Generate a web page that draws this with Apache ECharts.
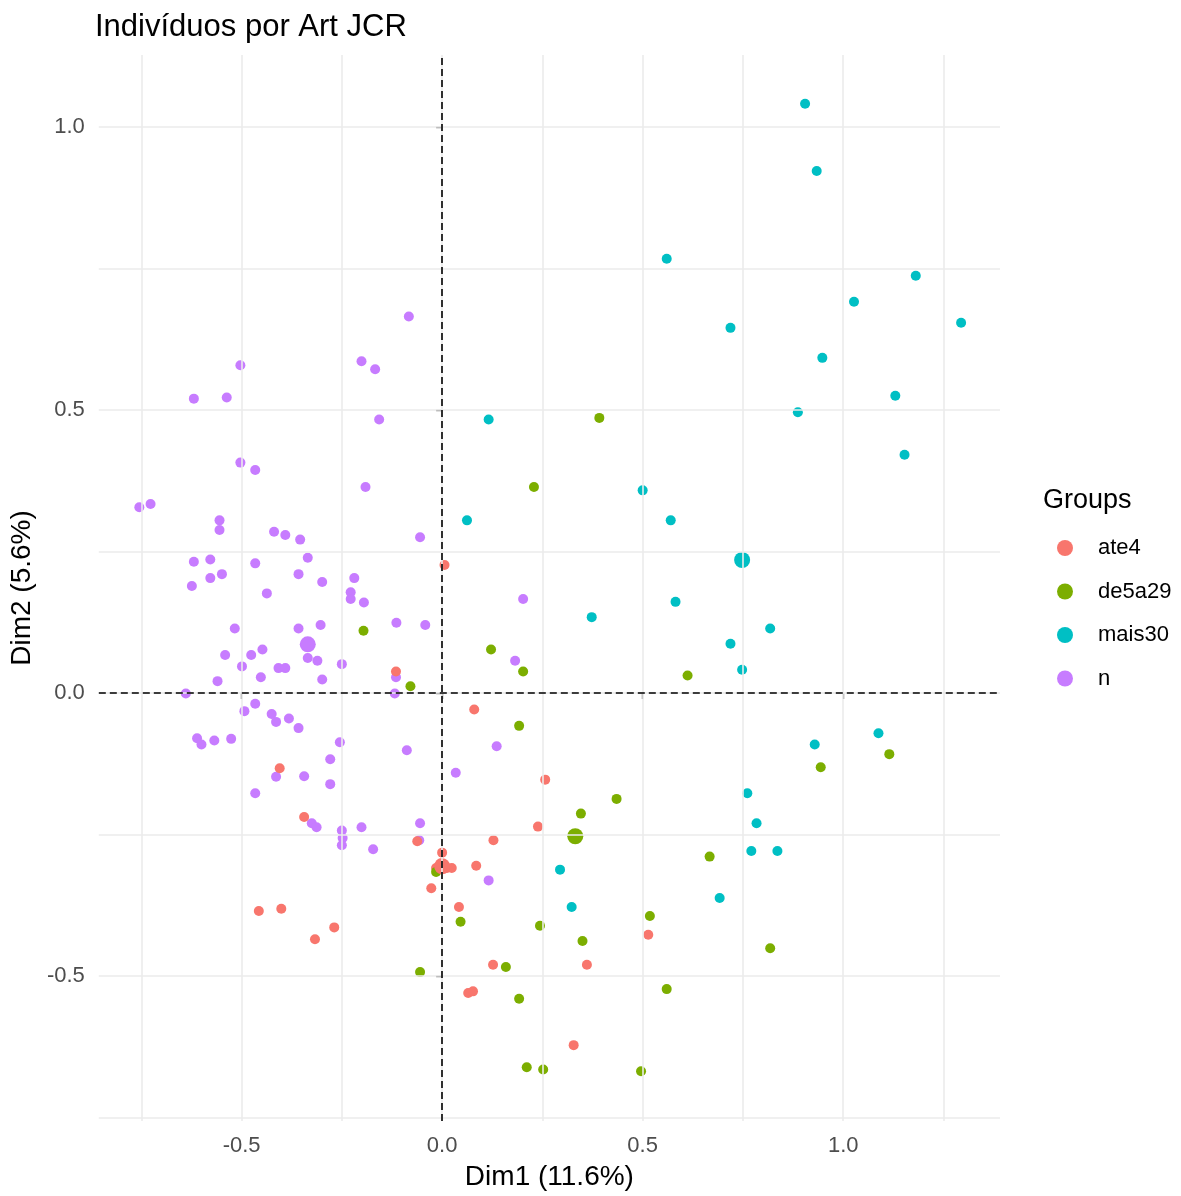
<!DOCTYPE html>
<html>
<head>
<meta charset="utf-8">
<script src="https://cdn.jsdelivr.net/npm/echarts@6/dist/echarts.min.js"></script>
<style>
html,body{margin:0;padding:0;background:#fff;}
#chart{width:1181px;height:1196px;}
</style>
</head>
<body>
<div id="chart"></div>
<script>
// ---- data ----
const groupNames = ['ate4', 'de5a29', 'mais30', 'n'];
const groupColors = ['#F8766D', '#7CAE00', '#00BFC4', '#C77CFF'];

const ptsAte4 = [
  [0.006, 0.226], [-0.115, 0.038], [0.080, -0.029], [-0.405, -0.133], [0.257, -0.153],
  [-0.344, -0.219], [0.239, -0.236], [-0.062, -0.262], [0.128, -0.260], [0.000, -0.282],
  [-0.015, -0.309], [-0.004, -0.301], [0.012, -0.309], [0.024, -0.309], [0.085, -0.305],
  [-0.027, -0.345], [0.042, -0.378], [0.514, -0.427], [0.127, -0.480], [0.361, -0.480],
  [0.065, -0.530], [0.077, -0.527], [0.328, -0.622], [-0.457, -0.385], [-0.401, -0.381],
  [-0.269, -0.414], [-0.317, -0.435]
];
const ptsDe5a29 = [
  [-0.196, 0.110], [0.392, 0.486], [0.229, 0.364], [0.122, 0.077], [0.202, 0.038],
  [-0.079, 0.012], [0.192, -0.058], [0.435, -0.187], [0.346, -0.213], [-0.015, -0.316],
  [0.046, -0.404], [0.244, -0.411], [0.518, -0.394], [0.350, -0.438], [-0.055, -0.493],
  [0.159, -0.484], [0.192, -0.540], [0.560, -0.523], [0.211, -0.661], [0.252, -0.665],
  [0.496, -0.668], [0.612, 0.031], [1.115, -0.108], [0.944, -0.131], [0.667, -0.289],
  [0.818, -0.451]
];
const ptsMais30 = [
  [0.116, 0.483], [0.500, 0.358], [0.062, 0.305], [0.570, 0.305], [0.582, 0.161],
  [0.373, 0.134], [0.294, -0.312], [0.323, -0.378], [0.905, 1.041], [0.934, 0.922],
  [0.560, 0.767], [1.181, 0.737], [1.027, 0.691], [1.294, 0.654], [0.719, 0.645],
  [0.948, 0.592], [1.130, 0.525], [0.887, 0.496], [1.153, 0.421], [0.818, 0.114],
  [0.719, 0.087], [0.748, 0.041], [1.088, -0.071], [0.929, -0.091], [0.761, -0.177],
  [0.784, -0.230], [0.771, -0.279], [0.836, -0.279], [0.692, -0.362]
];
const ptsN = [
  [-0.083, 0.665], [-0.503, 0.579], [-0.201, 0.586], [-0.167, 0.572], [-0.619, 0.520],
  [-0.537, 0.522], [-0.157, 0.483], [-0.503, 0.407], [-0.466, 0.394], [-0.191, 0.364],
  [-0.755, 0.328], [-0.727, 0.334], [-0.555, 0.305], [-0.555, 0.288], [-0.419, 0.285],
  [-0.391, 0.279], [-0.354, 0.271], [-0.055, 0.275], [-0.619, 0.232], [-0.578, 0.236],
  [-0.466, 0.229], [-0.335, 0.239], [-0.358, 0.210], [-0.299, 0.196], [-0.219, 0.203],
  [-0.624, 0.189], [-0.578, 0.203], [-0.549, 0.210], [-0.437, 0.176], [-0.228, 0.178],
  [-0.228, 0.166], [-0.195, 0.160], [0.202, 0.166], [-0.517, 0.114], [-0.358, 0.114],
  [-0.303, 0.120], [-0.114, 0.124], [-0.042, 0.120], [-0.541, 0.067], [-0.476, 0.067],
  [-0.448, 0.077], [-0.499, 0.047], [-0.408, 0.044], [-0.391, 0.044], [-0.335, 0.062],
  [-0.311, 0.057], [-0.250, 0.051], [0.182, 0.057], [-0.452, 0.028], [-0.560, 0.021],
  [-0.299, 0.024], [-0.115, 0.028], [-0.639, -0.001], [-0.118, -0.001], [-0.466, -0.019],
  [-0.493, -0.032], [-0.425, -0.037], [-0.414, -0.051], [-0.382, -0.045], [-0.358, -0.062],
  [-0.611, -0.080], [-0.600, -0.091], [-0.568, -0.084], [-0.526, -0.081], [-0.255, -0.087],
  [-0.088, -0.101], [0.136, -0.094], [-0.279, -0.117], [-0.414, -0.148], [-0.344, -0.147],
  [-0.279, -0.161], [0.034, -0.141], [-0.466, -0.177], [-0.325, -0.230], [-0.313, -0.237],
  [-0.250, -0.243], [-0.248, -0.256], [-0.250, -0.269], [-0.201, -0.237], [-0.055, -0.230],
  [-0.172, -0.276], [0.116, -0.331], [-0.057, -0.260]
];
// group mean points (larger markers)
const centroids = {
  ate4: [0.000, -0.306],
  de5a29: [0.332, -0.253],
  mais30: [0.748, 0.235],
  n: [-0.335, 0.086]
};

const xTickLabels = [-0.5, 0.0, 0.5, 1.0];
const yTickLabels = [-0.5, 0.0, 0.5, 1.0];
const xGridValues = [-0.75, -0.5, -0.25, 0, 0.25, 0.5, 0.75, 1.0, 1.25];
const yGridValues = [-0.75, -0.5, -0.25, 0, 0.25, 0.5, 0.75, 1.0];

const titleText = 'Indivíduos por Art JCR';
const xName = 'Dim1 (11.6%)';
const yName = 'Dim2 (5.6%)';
const legendTitle = 'Groups';

// ---- chart ----
const FONT = 'Liberation Sans, Arial, sans-serif';
const chart = echarts.init(document.getElementById('chart'), null, {renderer: 'canvas'});

const pointSets = {ate4: ptsAte4, de5a29: ptsDe5a29, mais30: ptsMais30, n: ptsN};
const drawOrder = ['n', 'ate4', 'de5a29', 'mais30'];

const series = [];
// grid lines
series.push({
  type: 'scatter', name: '_grid', data: [], silent: true, z: 1,
  markLine: {
    silent: true, symbol: ['none', 'none'], animation: false,
    label: {show: false},
    lineStyle: {color: '#EBEBEB', width: 1.6, type: 'solid'},
    emphasis: {disabled: true},
    data: xGridValues.map(v => ({xAxis: v})).concat(yGridValues.map(v => ({yAxis: v})))
  }
});
// dashed zero lines
series.push({
  type: 'scatter', name: '_zero', data: [], silent: true, z: 2,
  markLine: {
    silent: true, symbol: ['none', 'none'], animation: false,
    label: {show: false},
    lineStyle: {color: '#000', width: 1.6, type: [7, 4]},
    emphasis: {disabled: true},
    data: [{xAxis: 0}, {yAxis: 0}]
  }
});
drawOrder.forEach(g => {
  const ci = groupNames.indexOf(g);
  series.push({
    type: 'scatter', name: g, data: pointSets[g], symbol: 'circle', symbolSize: 10,
    itemStyle: {color: groupColors[ci], opacity: 1}, z: 3
  });
});
drawOrder.forEach(g => {
  const ci = groupNames.indexOf(g);
  series.push({
    type: 'scatter', name: g, data: [centroids[g]], symbol: 'circle', symbolSize: 16,
    itemStyle: {color: groupColors[ci], opacity: 1}, z: 4
  });
});

const option = {
  animation: false,
  backgroundColor: '#ffffff',
  textStyle: {fontFamily: FONT},
  title: [
    {text: titleText, left: 95, top: 12, padding: 0,
     textStyle: {fontFamily: FONT, fontSize: 31, fontWeight: 'normal', color: '#000'}},
    {text: legendTitle, left: 1043, top: 487, padding: 0,
     textStyle: {fontFamily: FONT, fontSize: 27, fontWeight: 'normal', color: '#000'}}
  ],
  legend: {
    data: groupNames, orient: 'vertical', left: 1057, top: 536, padding: 0,
    icon: 'circle', itemWidth: 16, itemHeight: 16, itemGap: 19.5,
    selectedMode: false,
    textStyle: {fontFamily: FONT, fontSize: 22, color: '#000', lineHeight: 24, padding: [0, 0, 0, 20]}
  },
  grid: {left: 97, right: 181, top: 55, bottom: 70, containLabel: false},
  xAxis: {
    type: 'value', min: -0.856, max: 1.391,
    name: xName, nameLocation: 'middle', nameGap: 42,
    nameTextStyle: {fontFamily: FONT, fontSize: 28, color: '#000'},
    axisLine: {show: false},
    axisTick: {show: true, customValues: xTickLabels, length: 6, lineStyle: {color: '#333', width: 1.3}},
    axisLabel: {customValues: xTickLabels, formatter: v => v.toFixed(1), margin: 14,
      fontFamily: FONT, fontSize: 22, color: '#4D4D4D'},
    splitLine: {show: false}
  },
  yAxis: {
    type: 'value', min: -0.756, max: 1.127,
    name: yName, nameLocation: 'middle', nameGap: 55,
    nameTextStyle: {fontFamily: FONT, fontSize: 28, color: '#000'},
    axisLine: {show: false},
    axisTick: {show: true, customValues: yTickLabels, length: 6, lineStyle: {color: '#333', width: 1.3}},
    axisLabel: {customValues: yTickLabels, formatter: v => v.toFixed(1), margin: 14,
      fontFamily: FONT, fontSize: 22, color: '#4D4D4D'},
    splitLine: {show: false}
  },
  series: series
};
chart.setOption(option);
</script>
</body>
</html>
